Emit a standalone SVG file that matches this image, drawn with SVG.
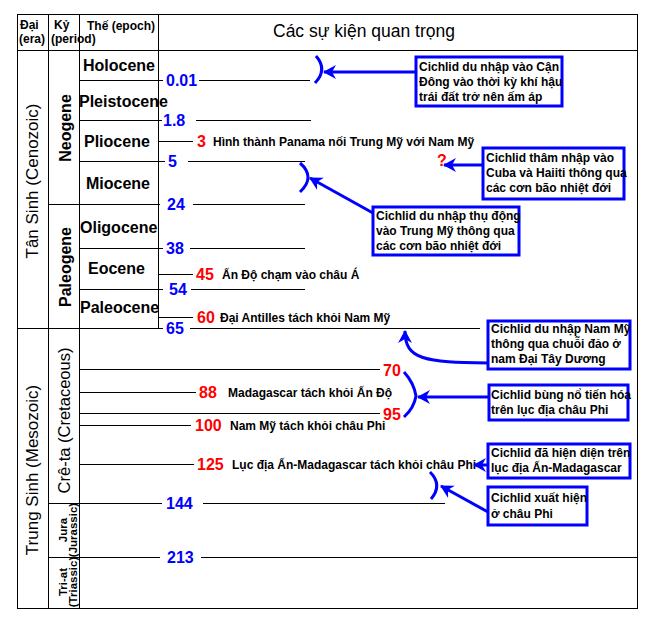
<svg xmlns="http://www.w3.org/2000/svg" width="647" height="617" viewBox="0 0 647 617">
<defs>
<style>
.ln{stroke:#000;stroke-width:1;fill:none;shape-rendering:crispEdges}
text{font-family:"Liberation Sans",Arial,sans-serif;fill:#000}
.hd{font-size:12px;font-weight:bold}
.ti{font-size:17.5px}
.era{font-size:17px}
.per{font-size:16px;font-weight:bold}
.cre{font-size:16.5px}
.sm{font-size:11.5px;font-weight:bold}
.ep{font-size:16px;font-weight:bold}
.num{font-size:16px;font-weight:bold;fill:#0000ff}
.red{font-size:16px;font-weight:bold;fill:#ff0000}
.ev{font-size:12px;font-weight:bold}
.box rect{fill:#fff;stroke:#0000ff;stroke-width:3}
.box text{font-size:12px;font-weight:bold}
.arr{stroke:#0000ff;stroke-width:3;fill:none}
</style>
<marker id="ah" markerUnits="userSpaceOnUse" markerWidth="14" markerHeight="14" refX="12" refY="7" orient="auto" viewBox="0 0 14 14">
<path d="M0,0 L13,7 L0,14 L4,7 Z" fill="#0000ff"/>
</marker>
</defs>
<rect width="647" height="617" fill="#fff"/>

<g id="table">
<rect class="ln" x="17.5" y="14.5" width="620" height="593.5"/>
<path class="ln" d="M17,50.5H638 M48.5,14V608 M79.5,14V608 M158.5,14V328"/>
<text class="hd" x="20" y="28.5">Đại</text>
<text class="hd" x="19" y="42.5">(era)</text>
<text class="hd" x="54" y="28.5">Kỷ</text>
<text class="hd" x="51" y="42.5">(period)</text>
<text class="hd" x="87" y="30">Thế (epoch)</text>
<text class="ti" x="273" y="37">Các sự kiện quan trọng</text>
</g>

<g id="eras">
<text class="era" transform="translate(38,181) rotate(-90)" text-anchor="middle">Tân Sinh (Cenozoic)</text>
<text class="era" transform="translate(38,470) rotate(-90)" text-anchor="middle">Trung Sinh (Mesozoic)</text>
</g>

<g id="periods">
<text class="per" transform="translate(71,128) rotate(-90)" text-anchor="middle">Neogene</text>
<text class="per" transform="translate(70.5,267) rotate(-90)" text-anchor="middle">Paleogene</text>
<text class="cre" transform="translate(70,420.5) rotate(-90)" text-anchor="middle">Crê-ta (Cretaceous)</text>
<text class="sm" transform="translate(67,530) rotate(-90)" text-anchor="middle">Jura</text>
<text class="sm" transform="translate(76.5,530) rotate(-90)" text-anchor="middle">(Jurassic)</text>
<text class="sm" transform="translate(67,582) rotate(-90)" text-anchor="middle">Tri-at</text>
<text class="sm" transform="translate(76.5,582) rotate(-90)" text-anchor="middle">(Triassic)</text>
</g>

<g id="epochs">
<text class="ep" x="83" y="71">Holocene</text>
<text class="ep" x="79" y="107">Pleistocene</text>
<text class="ep" x="84" y="146.5">Pliocene</text>
<text class="ep" x="86" y="189">Miocene</text>
<text class="ep" x="80" y="233">Oligocene</text>
<text class="ep" x="88" y="274">Eocene</text>
<text class="ep" x="80" y="313">Paleocene</text>
</g>

<g id="timeline">
<path class="ln" d="M79,80.5H163 M199,80.5H310 M79,120.5H162 M196,120.5H311 M158,141.5H193 M79,161.5H165 M188,161.5H305 M48,204.5H160 M193,204.5H305 M79,248.5H163 M190,248.5H305 M158,274.5H193 M79,289.5H163 M191,289.5H305 M158,317.5H193 M17,328.5H163 M190,328.5H480 M79,369.5H380 M79,392.5H196 M79,413.5H380 M79,425.5H191 M79,464.5H194 M48,503.5H162 M203,503.5H445 M48,557.5H160 M201,557.5H638"/>
<text class="num" x="166" y="86">0.01</text>
<text class="num" x="163" y="126">1.8</text>
<text class="red" x="197" y="147">3</text>
<text class="ev" x="213" y="145.5">Hình thành Panama nối Trung Mỹ với Nam Mỹ</text>
<text class="num" x="168" y="167">5</text>
<text class="num" x="167" y="210">24</text>
<text class="num" x="166" y="254">38</text>
<text class="red" x="196" y="280">45</text>
<text class="ev" x="222" y="278.5">Ấn Độ chạm vào châu Á</text>
<text class="num" x="169" y="295">54</text>
<text class="red" x="197" y="323">60</text>
<text class="ev" x="220" y="321.5">Đại Antilles tách khỏi Nam Mỹ</text>
<text class="num" x="166" y="334">65</text>
<text class="red" x="383" y="376">70</text>
<text class="red" x="199" y="398">88</text>
<text class="ev" x="228" y="396.5">Madagascar tách khỏi Ấn Độ</text>
<text class="red" x="383" y="420">95</text>
<text class="red" x="195" y="431">100</text>
<text class="ev" x="230" y="429.5">Nam Mỹ tách khỏi châu Phi</text>
<text class="red" x="197" y="470">125</text>
<text class="ev" x="232" y="468.5">Lục địa Ấn-Madagascar tách khỏi châu Phi</text>
<text class="num" x="166" y="509">144</text>
<text class="num" x="167" y="563">213</text>
<text class="red" x="437" y="166">?</text>
</g>

<g id="connectors">
<path class="arr" d="M316,56 Q328,69.5 315,83"/>
<path class="arr" d="M300,163 Q316,177 300,192"/>
<path class="arr" d="M404,372 Q414,383 416,396 Q414,408 404,417"/>
<path class="arr" d="M430,472 Q443,485 431,499"/>
<path class="arr" d="M416,72 L324,72" marker-end="url(#ah)"/>
<path class="arr" d="M483,165 L444,165" marker-end="url(#ah)"/>
<path class="arr" d="M373,213 L310,178" marker-end="url(#ah)"/>
<path class="arr" d="M488,363 C425,362 405,360 405,331" marker-end="url(#ah)"/>
<path class="arr" d="M489,397 L418,397" marker-end="url(#ah)"/>
<path class="arr" d="M488,465 L474,465" marker-end="url(#ah)"/>
<path class="arr" d="M488,512 L441,486" marker-end="url(#ah)"/>
</g>

<g id="box-can-dong" class="box">
<rect x="416" y="57" width="146" height="49"/>
<text x="419" y="70.5">Cichlid du nhập vào Cận</text>
<text x="419" y="85.5">Đông vào thời kỳ khí hậu</text>
<text x="419" y="100.5">trái đất trở nên ấm áp</text>
</g>
<g id="box-cuba" class="box">
<rect x="483" y="148" width="141" height="51"/>
<text x="486" y="162">Cichlid thâm nhập vào</text>
<text x="486" y="177">Cuba và Haiiti thông qua</text>
<text x="486" y="192">các cơn bão nhiệt đới</text>
</g>
<g id="box-trung-my" class="box">
<rect x="373" y="207" width="146" height="48"/>
<text x="376" y="220">Cichlid du nhập thụ động</text>
<text x="376" y="235">vào Trung Mỹ thông qua</text>
<text x="376" y="250">các cơn bão nhiệt đới</text>
</g>
<g id="box-nam-my" class="box">
<rect x="488" y="321" width="142" height="48"/>
<text x="491" y="333">Cichlid du nhập Nam Mỹ</text>
<text x="491" y="348">thông qua chuỗi đảo ở</text>
<text x="491" y="363">nam Đại Tây Dương</text>
</g>
<g id="box-bung-no" class="box">
<rect x="489" y="385" width="139" height="35"/>
<text x="491" y="399">Cichlid bùng nổ tiến hóa</text>
<text x="491" y="414">trên lục địa châu Phi</text>
</g>
<g id="box-hien-dien" class="box">
<rect x="488" y="444" width="142" height="34"/>
<text x="491" y="457">Cichlid đã hiện diện trên</text>
<text x="491" y="472">lục địa Ấn-Madagascar</text>
</g>
<g id="box-xuat-hien" class="box">
<rect x="488" y="487" width="99" height="38"/>
<text x="491" y="502">Cichlid xuất hiện</text>
<text x="491" y="518">ở châu Phi</text>
</g>
</svg>
